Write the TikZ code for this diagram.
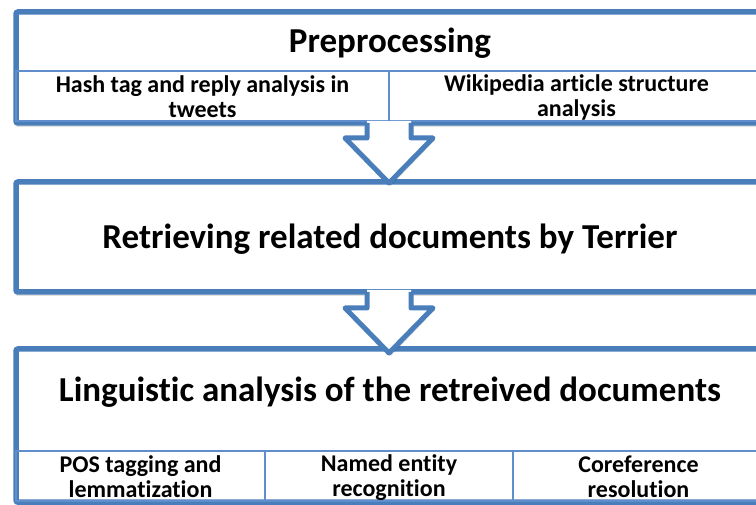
\documentclass[tikz,border=0pt]{standalone}
\usepackage{fontspec}
\setmainfont[Ligatures=NoCommon]{Carlito}
\definecolor{bord}{RGB}{74,126,187}
\definecolor{subblue}{RGB}{96,142,204}
\begin{document}
\begin{tikzpicture}[x=1pt,y=-1pt,
  bigbox/.style={draw=bord,line width=5.5pt,fill=white,rounded corners=2pt,inner sep=0pt,
    minimum width=748pt},
  subbox/.style={draw=subblue,line width=2pt,inner sep=0pt,minimum height=50pt},
  title/.style={font=\bfseries\fontsize{35}{40}\selectfont,inner sep=0pt},
  subtxt/.style={font=\bfseries\fontsize{24}{25}\selectfont,align=center,inner sep=0pt},
  shadow/.style={fill=black,opacity=0.12,rounded corners=3pt},
  barrow/.style={draw=bord,line width=5pt,line join=round}
]
\useasboundingbox (0,0) rectangle (756,505);
\clip (0,0) rectangle (756,505);
% shadows
\fill[shadow] (15,16) rectangle (767,127);
\fill[shadow] (15,186) rectangle (767,296);
\fill[shadow] (15,353) rectangle (767,508);
% box 1
\node[bigbox,minimum height=111pt] (pre) at (390,67.5) {};
\node[subbox,minimum width=373pt] (hash) at (202.5,96) {};
\node[subbox,minimum width=375pt] (wiki) at (576.5,96) {};
\node[title] (pret) at (390,43) {Preprocessing};
\node[subtxt] at ([yshift=-1pt]hash.center) {Hash tag and reply analysis in\\tweets};
\node[subtxt] at ([yshift=-1pt]wiki.center) {Wikipedia article structure\\analysis};
% box 2
\node[bigbox,minimum height=110pt] (ret) at (390,237) {};
\node[title] (rett) at (390,239) {Retrieving related documents by Terrier};
% box 3
\node[bigbox,minimum height=153pt] (ling) at (390,425.5) {};
\node[subbox,minimum width=249pt] (pos) at (140.5,476) {};
\node[subbox,minimum width=248pt] (ner) at (389,476) {};
\node[subbox,minimum width=251pt] (coref) at (638.5,476) {};
\node[title] (lingt) at (390,392) {Linguistic analysis of the retreived documents};
\node[subtxt] at ([yshift=-1pt]pos.center) {POS tagging and\\lemmatization};
\node[subtxt] at ([yshift=-2pt]ner.center) {Named entity\\recognition};
\node[subtxt] at ([yshift=-1pt]coref.center) {Coreference\\resolution};
% arrow 1
\coordinate (a1) at (389,183);
\fill[black,opacity=0.12] (369,125) -- (369,140) -- (347,140) -- (391,186) -- (435,140) -- (413,140) -- (413,125) -- cycle;
\fill[white] (367,121) -- (367,138) -- (345,138) -- (a1) -- (433,138) -- (411,138) -- (411,121) -- cycle;
\draw[barrow] (367,123) -- (367,138) -- (345,138) -- (a1) -- (433,138) -- (411,138) -- (411,123);
\draw[subblue,line width=2pt] (389,71) -- (389,121);
% arrow 2
\coordinate (a2) at (389,353);
\fill[black,opacity=0.12] (369,294) -- (369,310) -- (347,310) -- (391,356) -- (435,310) -- (413,310) -- (413,294) -- cycle;
\fill[white] (367,290) -- (367,308) -- (345,308) -- (a2) -- (433,308) -- (411,308) -- (411,290) -- cycle;
\draw[barrow] (367,292) -- (367,308) -- (345,308) -- (a2) -- (433,308) -- (411,308) -- (411,292);
\end{tikzpicture}
\end{document}
